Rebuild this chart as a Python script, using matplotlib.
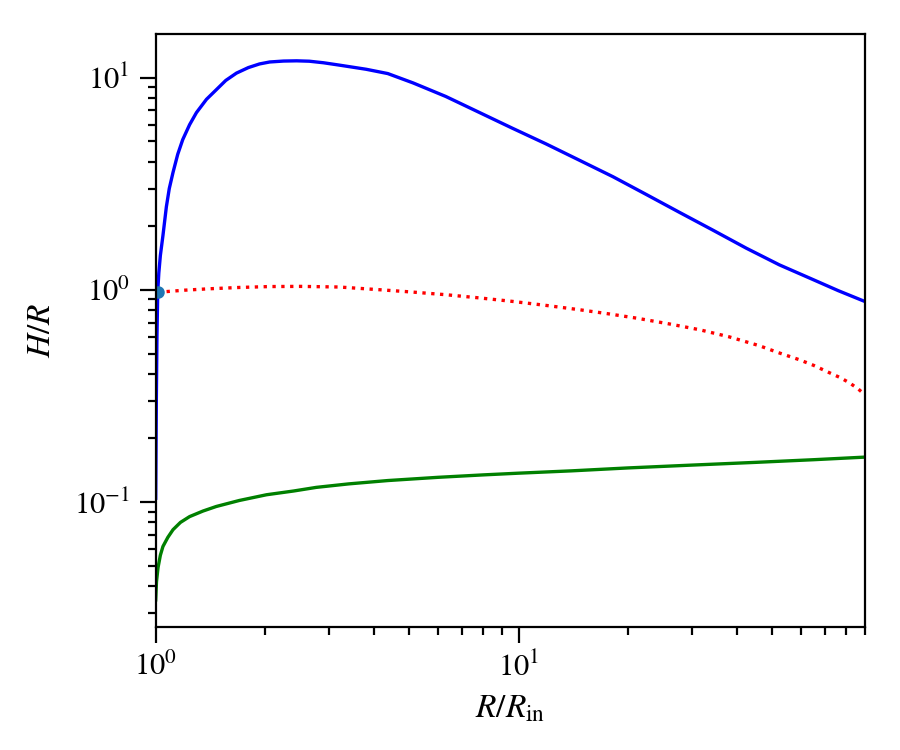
import matplotlib
matplotlib.use("Agg")
import matplotlib.pyplot as plt

plt.rcParams['font.family'] = 'serif'
plt.rcParams['font.serif'] = ['STIXGeneral', 'Liberation Serif', 'DejaVu Serif']
plt.rcParams['mathtext.fontset'] = 'stix'

# Blue solid curve
blue_x = [1.0, 1.004, 1.008, 1.013, 1.02, 1.03, 1.047, 1.07, 1.09, 1.116, 1.15, 1.187, 1.24, 1.295,
          1.38, 1.469, 1.56, 1.669, 1.8, 1.932, 2.061, 2.25, 2.446, 2.65, 2.9, 3.21, 3.8, 4.36,
          5.12, 6.3, 7.81, 9.6, 11.9, 14.7, 18.2, 22.5, 27.7, 34.3, 42.4, 52.3, 64.5, 76.0, 90.0]
blue_y = [0.104, 0.3, 0.6, 0.98, 1.2, 1.45, 1.8, 2.46, 3.0, 3.57, 4.35, 5.1, 6.0, 6.84,
          7.9, 8.77, 9.7, 10.5, 11.15, 11.6, 11.85, 11.97, 12.0, 11.95, 11.75, 11.45, 10.95, 10.45,
          9.44, 8.15, 6.84, 5.78, 4.87, 4.08, 3.41, 2.81, 2.32, 1.91, 1.57, 1.31, 1.12, 0.99, 0.88]

# Red dotted curve
red_x = [1.013, 1.07, 1.2, 1.4, 1.7, 2.06, 2.5, 3.2, 4.14, 5.1, 6.32, 7.8, 9.62, 12.0, 14.7,
         17.5, 21.1, 26.0, 31.5, 38.0, 46.0, 52.0, 59.3, 65.0, 71.9, 77.0, 81.6, 86.0, 90.0]
red_y = [0.975, 0.98, 0.995, 1.01, 1.025, 1.035, 1.037, 1.03, 1.0, 0.975, 0.947, 0.915, 0.881, 0.842, 0.805,
         0.772, 0.735, 0.69, 0.648, 0.6, 0.545, 0.505, 0.468, 0.44, 0.406, 0.385, 0.364, 0.342, 0.32]

# Green solid curve
green_x = [1.0, 1.005, 1.015, 1.03, 1.047, 1.08, 1.116, 1.17, 1.24, 1.35, 1.469, 1.7, 2.02, 2.4, 2.77,
           3.4, 4.36, 6.0, 8.0, 10.0, 14.0, 20.0, 30.0, 45.0, 65.0, 90.0]
green_y = [0.0345, 0.042, 0.049, 0.056, 0.0616, 0.068, 0.0739, 0.08, 0.0852, 0.0905, 0.0951, 0.1015, 0.108, 0.1125, 0.117,
           0.1215, 0.126, 0.1305, 0.134, 0.1365, 0.14, 0.1445, 0.149, 0.1535, 0.158, 0.1625]

# Marker point
pt_x = [1.013]
pt_y = [0.98]

fig = plt.figure(figsize=(4.5, 3.75), dpi=200)
ax = fig.add_axes([0.173, 0.164, 0.788, 0.791])

ax.plot(blue_x, blue_y, color='b', lw=1.2)
ax.plot(red_x, red_y, color='r', lw=1.2, ls=':')
ax.plot(green_x, green_y, color='g', lw=1.2)
ax.plot(pt_x, pt_y, 'o', color='C0', ms=3.5)

ax.set_xscale('log')
ax.set_yscale('log')
ax.set_xlim(1.0, 90.0)
ax.set_ylim(0.0257, 16.1)

ax.tick_params(which='major', direction='out', length=5.8, width=0.8, labelsize=11)
ax.tick_params(which='minor', direction='out', length=2.9, width=0.8)
for s in ax.spines.values():
    s.set_linewidth(0.8)

ax.set_xlabel(r'$R/R_{\rm in}$', fontsize=12, labelpad=4)
ax.set_ylabel(r'$H/R$', fontsize=12, labelpad=6)

fig.savefig('out.png', dpi=200)
